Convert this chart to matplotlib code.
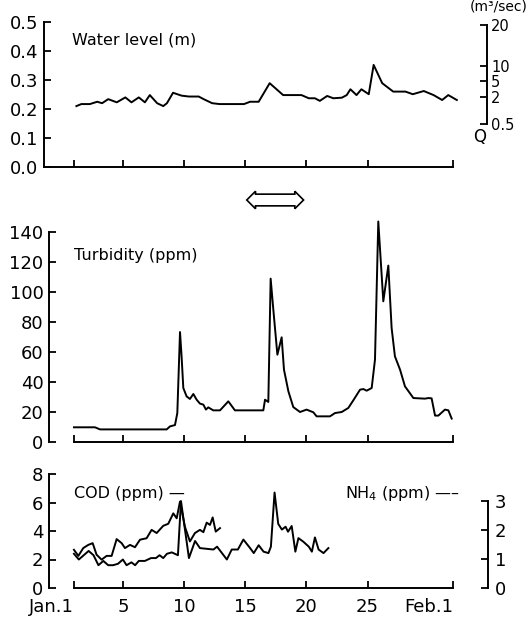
import matplotlib.pyplot as plt
from matplotlib.transforms import blended_transform_factory

# ---- data ----
# x axis: day of January (Feb.1 = day 32)
tick_days = [1, 5, 10, 15, 20, 25, 32]
tick_labels = ['Jan.1', '5', '10', '15', '20', '25', 'Feb.1']

# water level (m)
wl_days = [1.2, 1.6, 2.3, 2.9, 3.3, 3.8, 4.5, 5.2, 5.7, 6.3,
           6.8, 7.2, 7.8, 8.3, 8.6, 9.1, 9.8, 10.4, 11.2, 11.6,
           12.3, 12.9, 14.9, 15.4, 16.1, 17.0, 18.1, 18.9, 19.6, 20.2,
           20.7, 21.1, 21.7, 22.2, 22.9, 23.3, 23.6, 24.1, 24.5, 25.1,
           25.5, 26.2, 27.1, 28.1, 28.7, 29.6, 30.4, 31.1, 31.6, 32.3]
wl_level = [0.210, 0.217, 0.217, 0.225, 0.220, 0.234, 0.223, 0.240, 0.223, 0.240,
            0.223, 0.248, 0.220, 0.210, 0.220, 0.256, 0.246, 0.243, 0.243, 0.234,
            0.220, 0.217, 0.217, 0.225, 0.225, 0.289, 0.248, 0.248, 0.248, 0.237,
            0.237, 0.228, 0.245, 0.237, 0.239, 0.248, 0.268, 0.248, 0.268, 0.251,
            0.352, 0.289, 0.260, 0.260, 0.251, 0.262, 0.248, 0.231, 0.248, 0.231]

# discharge scale Q (m3/sec) on the water level axis
q_labels = ['20', '10', '5', '2', '0.5']
q_levels = [0.49, 0.35, 0.295, 0.24, 0.147]

# turbidity (ppm)
tb_days = [1.0, 2.72, 3.13, 8.58, 8.85, 9.26, 9.45, 9.67, 9.80, 9.94,
           10.21, 10.48, 10.76, 11.03, 11.30, 11.58, 11.79, 11.98, 12.39, 12.94,
           13.62, 14.16, 16.48, 16.62, 16.89, 17.08, 17.30, 17.63, 17.98, 18.17,
           18.53, 18.93, 19.48, 20.02, 20.57, 20.84, 21.93, 22.34, 22.89, 23.43,
           23.84, 24.39, 24.66, 24.93, 25.34, 25.61, 25.88, 26.29, 26.70, 26.97,
           27.24, 27.66, 28.06, 28.75, 29.70, 29.97, 30.24, 30.52, 30.79, 31.33,
           31.61, 31.88]
tb_ppm = [9.8, 9.8, 8.4, 8.4, 10.4, 11.3, 19.3, 73.3, 57, 36,
          30.4, 28.7, 32, 28.2, 25.6, 24.9, 21.6, 23.1, 21.1, 21.1,
          27.1, 21.1, 21.1, 28.2, 26.7, 108.9, 88.2, 58.2, 69.8, 48.2,
          33.8, 23.3, 20, 21.6, 19.8, 17.1, 17.1, 19.3, 20, 22.7,
          27.8, 34.9, 35.3, 34.2, 36, 54.9, 147, 93.8, 117.6, 76,
          57.1, 48.2, 37.1, 29.3, 28.9, 29.3, 29.1, 17.6, 17.6, 21.6,
          21.1, 15.6]

# COD (ppm)
cod_days = [1.0, 1.4, 1.8, 2.2, 2.6, 3.0, 3.4, 3.8, 4.2, 4.6,
            5.0, 5.3, 5.7, 6.0, 6.3, 6.8, 7.3, 7.7, 8.0, 8.3,
            8.6, 9.0, 9.5, 9.75, 10.4, 10.9, 11.3, 12.4, 12.7, 13.1,
            13.5, 13.9, 14.4, 14.85, 15.4, 15.7, 16.1, 16.5, 16.9, 17.1,
            17.4, 17.7, 18.0, 18.3, 18.5, 18.8, 19.1, 19.35, 19.75, 20.2,
            20.45, 20.7, 21.0, 21.4, 21.8]
cod_ppm = [2.4, 2.0, 2.3, 2.6, 2.3, 1.6, 1.9, 1.6, 1.6, 1.7,
           2.0, 1.6, 1.8, 1.6, 1.9, 1.9, 2.1, 2.1, 2.3, 2.1,
           2.4, 2.5, 2.3, 6.1, 2.1, 3.3, 2.8, 2.7, 2.9, 2.45,
           2.0, 2.7, 2.7, 3.4, 2.8, 2.45, 3.0, 2.55, 2.45, 2.9,
           6.7, 4.5, 4.1, 4.3, 3.95, 4.35, 2.55, 3.5, 3.25, 2.9,
           2.55, 3.55, 2.7, 2.45, 2.8]

# NH4 (ppm)
nh4_days = [1.0, 1.36, 1.76, 2.17, 2.53, 2.85, 3.26, 3.67, 4.08, 4.49,
            4.90, 5.17, 5.58, 5.99, 6.40, 6.94, 7.35, 7.76, 8.30, 8.71,
            9.12, 9.40, 9.67, 10.07, 10.48, 10.89, 11.30, 11.58, 11.85, 12.12,
            12.34, 12.59, 12.94]
nh4_ppm = [1.32, 1.11, 1.38, 1.49, 1.55, 1.15, 0.98, 1.11, 1.11, 1.69,
           1.55, 1.38, 1.49, 1.41, 1.67, 1.72, 2.01, 1.90, 2.15, 2.22,
           2.58, 2.41, 2.99, 2.12, 1.61, 1.90, 2.01, 1.93, 2.26, 2.18,
           2.44, 1.95, 2.07]

plt.rcParams['font.family'] = ['DejaVu Sans']
plt.rcParams['font.size'] = 13

W, H = 528, 618


def box(l, t, r, b):
    # pixel box -> figure fraction
    return [l / W, 1 - b / H, (r - l) / W, (b - t) / H]


fig = plt.figure(figsize=(W / 100, H / 100), dpi=100)
ax_wl = fig.add_axes(box(44, 22, 460, 167))
ax_tb = fig.add_axes(box(49, 217, 460, 442))
ax_cd = fig.add_axes(box(49, 474, 460, 588))

lw = 1.4
fs = 13     # tick numbers
fs_t = 11.5  # panel titles


def style(ax, ylo, yhi, xlo):
    for s in ['top', 'right']:
        ax.spines[s].set_visible(False)
    for s in ['left', 'bottom']:
        ax.spines[s].set_linewidth(1.4)
    ax.spines['left'].set_bounds(ylo, yhi)
    ax.spines['bottom'].set_bounds(xlo, 32)
    ax.set_xticks(tick_days)
    ax.tick_params(direction='in', length=5, width=1.3, labelsize=fs, pad=4)


# water level
ax_wl.plot(wl_days, wl_level, color='black', lw=lw, clip_on=False)
ax_wl.set_xlim(-1.45, 32.56)
ax_wl.set_ylim(0, 0.5)
style(ax_wl, 0, 0.5, -1.45)
ax_wl.set_yticks([0, 0.1, 0.2, 0.3, 0.4, 0.5])
ax_wl.set_yticklabels(['0.0', '0.1', '0.2', '0.3', '0.4', '0.5'])
ax_wl.tick_params(axis='x', labelbottom=False)
ax_wl.text(0.067, 0.876, 'Water level (m)', transform=ax_wl.transAxes,
           fontsize=fs_t, va='center')

axq = ax_wl.twinx()
axq.set_ylim(0, 0.5)
for s in ['top', 'left', 'bottom']:
    axq.spines[s].set_visible(False)
axq.spines['right'].set_position(('axes', 1.065))
axq.spines['right'].set_bounds(min(q_levels), max(q_levels))
axq.spines['right'].set_linewidth(1.4)
axq.set_yticks(q_levels)
axq.set_yticklabels(q_labels)
axq.tick_params(direction='in', length=5, width=1.3, labelsize=10.5, pad=3)
axq.text(1.0, 1.0, '(m\u00b3/sec)', transform=fig.transFigure,
         fontsize=10, ha='right', va='top')
axq.text(1.048, 0.207, 'Q', transform=axq.transAxes, fontsize=12,
         ha='center', va='center')

# double arrow between the panels
tr = blended_transform_factory(ax_tb.transData, fig.transFigure)
fig.text(17.4, 1 - 200 / H, ' ' * 15, transform=tr, fontsize=6.5,
         ha='center', va='center',
         bbox=dict(boxstyle='darrow,pad=0.15', fc='white', ec='black', lw=1.2))

# turbidity
ax_tb.plot(tb_days, tb_ppm, color='black', lw=lw, clip_on=False)
ax_tb.set_xlim(-1.04, 32.56)
ax_tb.set_ylim(0, 150)
style(ax_tb, 0, 140, 1)
ax_tb.set_yticks(range(0, 141, 20))
ax_tb.tick_params(axis='x', labelbottom=False)
ax_tb.text(0.061, 0.827, 'Turbidity (ppm)', transform=ax_tb.transAxes,
           fontsize=fs_t, va='center')

# COD / NH4
ax_cd.plot(cod_days, cod_ppm, color='black', lw=lw)
ax_cd.set_xlim(-1.04, 32.56)
ax_cd.set_ylim(0, 8)
style(ax_cd, 0, 8, 1)
ax_cd.set_yticks([0, 2, 4, 6, 8])
ax_cd.set_xticklabels(tick_labels)
ax_cd.tick_params(axis='x', pad=7)
xl = ax_cd.get_xticklabels()
xl[0].set_ha('right')
xl[-1].set_ha('right')
ax_cd.text(0.061, 0.833, 'COD (ppm) \u2014', transform=ax_cd.transAxes,
           fontsize=fs_t, va='center')
ax_cd.text(0.72, 0.833, 'NH$_4$ (ppm) \u2014\u2013', transform=ax_cd.transAxes,
           fontsize=fs_t, va='center')

axn = ax_cd.twinx()
axn.plot(nh4_days, nh4_ppm, color='black', lw=lw)
axn.set_ylim(0, 8 / 2.03)
for s in ['top', 'left', 'bottom']:
    axn.spines[s].set_visible(False)
axn.spines['right'].set_position(('axes', 1.068))
axn.spines['right'].set_bounds(0, 3)
axn.spines['right'].set_linewidth(1.4)
axn.set_yticks([0, 1, 2, 3])
axn.tick_params(direction='in', length=5, width=1.3, labelsize=fs, pad=5)

fig.savefig('out.png', dpi=100)
